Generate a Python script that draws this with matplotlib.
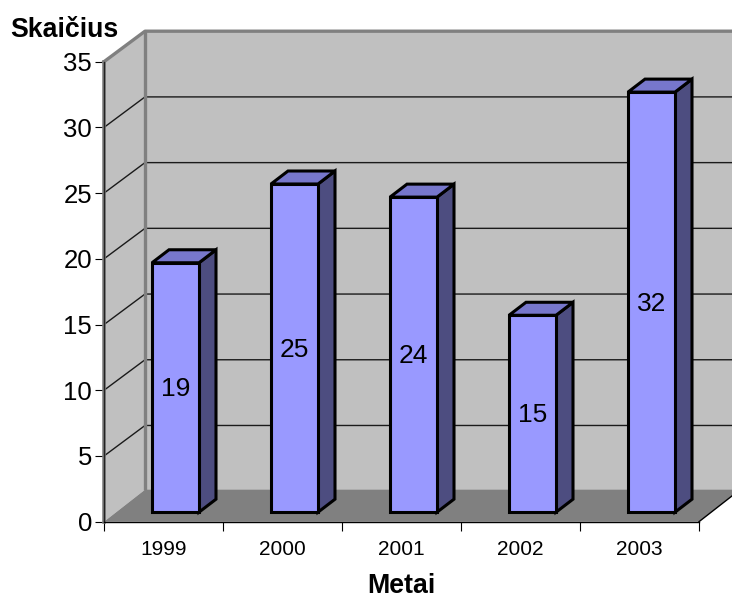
import matplotlib.pyplot as plt
from matplotlib.patches import Polygon

plt.rcParams["font.family"] = ["Liberation Sans", "DejaVu Sans"]

years = ["1999", "2000", "2001", "2002", "2003"]
counts = [19, 25, 24, 15, 32]
y_ticks = [0, 5, 10, 15, 20, 25, 30, 35]

WALL = "#c0c0c0"
FLOOR = "#808080"
BAR_FRONT = "#9999ff"
BAR_TOP = "#7777cc"
BAR_SIDE = "#4d4d80"

# depth of the box and of the bars, in data units
DEPTH_X = 41 / 119
DEPTH_Y = 30.5 / 13.14
FLOOR_DEPTH_Y = 32 / 13.14
BAR_DX = 17 / 119
BAR_DY = 13 / 13.14
BAR_SHIFT_X = 12 / 119
BAR_SHIFT_Y = 9.5 / 13.14
BAR_W = 47 / 119

n = len(years)
y_max = y_ticks[-1]

fig = plt.figure(figsize=(7.32, 5.98), dpi=100)
ax = fig.add_axes([104 / 732, 1 - 521.7 / 598, 595 / 732, 460 / 598])
ax.set_xlim(0, n)
ax.set_ylim(0, y_max)
ax.patch.set_visible(False)


def poly(points, **kw):
    ax.add_patch(Polygon(points, closed=True, clip_on=False, **kw))


# back wall, side wall, floor
poly([(DEPTH_X, FLOOR_DEPTH_Y), (n + DEPTH_X, FLOOR_DEPTH_Y), (n + DEPTH_X, y_max + DEPTH_Y), (DEPTH_X, y_max + DEPTH_Y)],
     facecolor=WALL, edgecolor="none", zorder=1)
poly([(0, 0), (DEPTH_X, FLOOR_DEPTH_Y), (DEPTH_X, y_max + DEPTH_Y), (0, y_max)],
     facecolor=WALL, edgecolor="none", zorder=1)
poly([(0, 0), (n, 0), (n + DEPTH_X, FLOOR_DEPTH_Y), (DEPTH_X, FLOOR_DEPTH_Y)],
     facecolor=FLOOR, edgecolor="none", zorder=1)

# grid lines run along the side wall, then across the back wall
for v in y_ticks[1:-1]:
    ax.plot([0, DEPTH_X, n + DEPTH_X], [v, v + DEPTH_Y, v + DEPTH_Y],
            color="#1a1a1a", lw=1.0, clip_on=False, zorder=2)

# thick grey border of the walls
ax.plot([DEPTH_X, DEPTH_X], [FLOOR_DEPTH_Y, y_max + DEPTH_Y], color=FLOOR, lw=2.4, clip_on=False, zorder=2, solid_capstyle="butt")
ax.plot([0, DEPTH_X, n + DEPTH_X], [y_max, y_max + DEPTH_Y, y_max + DEPTH_Y], color=FLOOR, lw=2.4, clip_on=False, zorder=2)
ax.plot([0, 0], [0, y_max], color=FLOOR, lw=2.6, clip_on=False, zorder=2)

# front edge of the floor on the right
ax.plot([n, n + DEPTH_X], [0, FLOOR_DEPTH_Y], color="black", lw=1.0, clip_on=False, zorder=2)

# bars
for i, (year, c) in enumerate(zip(years, counts)):
    x0 = i + 0.5 + BAR_SHIFT_X - BAR_W / 2
    x1 = x0 + BAR_W
    y0 = BAR_SHIFT_Y
    y1 = y0 + c * 420 / 32 / 13.14
    edge = dict(edgecolor="black", linewidth=2.2, joinstyle="miter", zorder=3)
    poly([(x1, y0), (x1 + BAR_DX, y0 + BAR_DY), (x1 + BAR_DX, y1 + BAR_DY), (x1, y1)], facecolor=BAR_SIDE, **edge)
    poly([(x0, y1), (x1, y1), (x1 + BAR_DX, y1 + BAR_DY), (x0 + BAR_DX, y1 + BAR_DY)], facecolor=BAR_TOP, **edge)
    poly([(x0, y0), (x1, y0), (x1, y1), (x0, y1)], facecolor=BAR_FRONT, **edge)
    ax.text((x0 + x1) / 2, (y0 + y1) / 2 - 0.12, str(c), ha="center", va="center", fontsize=19, color="black", zorder=4)

ax.spines["top"].set_visible(False)
ax.spines["right"].set_visible(False)
ax.spines["left"].set_color("#222222")
ax.spines["left"].set_linewidth(1.0)
ax.spines["bottom"].set_color("black")
ax.spines["bottom"].set_linewidth(1.0)
for s in ax.spines.values():
    s.set_zorder(2.5)

ax.set_yticks(y_ticks)
ax.tick_params(axis="y", length=6.5, width=0.8, labelsize=18.5, pad=2)
ax.set_xticks(range(n + 1))
ax.set_xticklabels([])
ax.set_xticks([i + 0.5 for i in range(n)], labels=years, minor=True)
ax.tick_params(axis="x", which="major", length=6.5, width=0.8)
ax.tick_params(axis="x", which="minor", length=0, labelsize=15, pad=13)

ax.set_xlabel("Metai", fontsize=19.3, fontweight="bold", labelpad=10)
fig.text(10 / 732, 1 - 30 / 598, "Skaičius", fontsize=19.3, fontweight="bold", ha="left", va="center")

fig.savefig("out.png", dpi=100)
